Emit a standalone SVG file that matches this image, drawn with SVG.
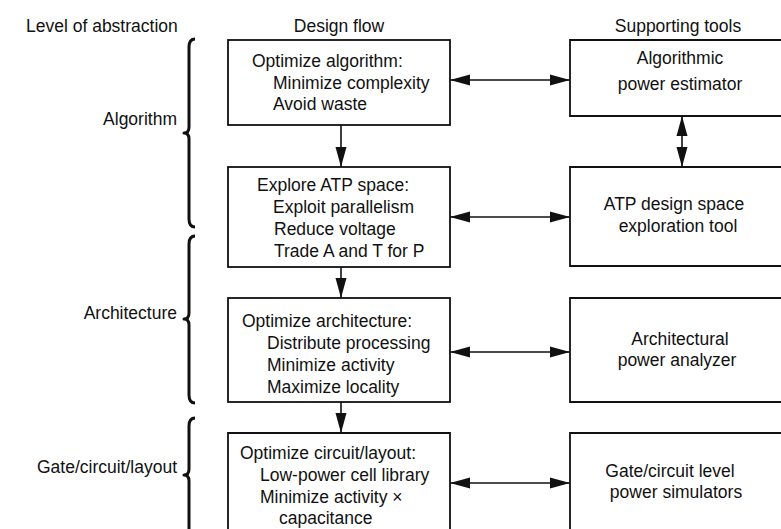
<svg xmlns="http://www.w3.org/2000/svg" width="781" height="529" viewBox="0 0 781 529">
<style>
text{font-family:"Liberation Sans",Arial,sans-serif;font-size:17.5px;fill:#111}
.c{text-anchor:middle}
.e{text-anchor:end}
.box{fill:none;stroke:#111;stroke-width:1.8}
.ln{fill:none;stroke:#111;stroke-width:1.6}
.br{fill:none;stroke:#111;stroke-width:3;stroke-linejoin:round}
</style>
<defs>
<marker id="ah" markerUnits="userSpaceOnUse" markerWidth="22" markerHeight="12" refX="20" refY="6" orient="auto-start-reverse">
<path d="M0,0.5 L20,6 L0,11.5 Z" fill="#111"/>
</marker>
</defs>
<rect width="781" height="529" fill="#fff"/>
<g id="headers">
<text x="26" y="32">Level of abstraction</text>
<text class="c" x="339" y="32">Design flow</text>
<text class="c" x="678" y="32">Supporting tools</text>
</g>
<g id="levels">
<g id="lvl-algorithm">
<path class="br" d="M195,39 Q189,39 189,47 L189,127 Q189,133 184,133 Q189,133 189,139 L189,219 Q189,227 195,227"/>
<text class="e" x="177" y="125">Algorithm</text>
</g>
<g id="lvl-architecture">
<path class="br" d="M195,236 Q189,236 189,244 L189,313 Q189,319 184,319 Q189,319 189,325 L189,395 Q189,403 195,403"/>
<text class="e" x="177" y="319">Architecture</text>
</g>
<g id="lvl-gate">
<path class="br" d="M195,418 Q189,418 189,426 L189,469 Q189,475 184,475 Q189,475 189,481 L189,540"/>
<text class="e" x="177" y="473">Gate/circuit/layout</text>
</g>
</g>
<g id="flow1">
<rect class="box" x="228" y="40" width="222" height="85"/>
<text x="252" y="67">Optimize algorithm:</text>
<text x="273" y="89">Minimize complexity</text>
<text x="273" y="110">Avoid waste</text>
</g>
<g id="flow2">
<rect class="box" x="228" y="167" width="222" height="100"/>
<text x="257" y="191">Explore ATP space:</text>
<text x="273" y="213">Exploit parallelism</text>
<text x="274" y="235">Reduce voltage</text>
<text x="274" y="257">Trade A and T for P</text>
</g>
<g id="flow3">
<rect class="box" x="228" y="298" width="222" height="104"/>
<text x="242" y="327">Optimize architecture:</text>
<text x="267" y="349">Distribute processing</text>
<text x="267" y="371">Minimize activity</text>
<text x="267" y="393">Maximize locality</text>
</g>
<g id="flow4">
<path class="box" d="M228,540 L228,433 L450,433 L450,540"/>
<text x="240" y="459">Optimize circuit/layout:</text>
<text x="260" y="481">Low-power cell library</text>
<text x="260" y="503">Minimize activity ×</text>
<text x="279" y="524">capacitance</text>
</g>
<g id="tool1">
<path class="box" d="M790,40 L570,40 L570,116 L790,116"/>
<text class="c" x="680" y="64">Algorithmic</text>
<text class="c" x="680" y="90">power estimator</text>
</g>
<g id="tool2">
<path class="box" d="M790,167 L570,167 L570,266 L790,266"/>
<text class="c" x="674" y="210">ATP design space</text>
<text class="c" x="678" y="232">exploration tool</text>
</g>
<g id="tool3">
<path class="box" d="M790,298 L570,298 L570,402 L790,402"/>
<text class="c" x="680" y="345">Architectural</text>
<text class="c" x="677" y="366">power analyzer</text>
</g>
<g id="tool4">
<path class="box" d="M790,433 L570,433 L570,540"/>
<text class="c" x="670" y="477">Gate/circuit level</text>
<text class="c" x="676" y="498">power simulators</text>
</g>
<g id="connectors">
<line class="ln" x1="341" y1="125" x2="341" y2="167" marker-end="url(#ah)"/>
<line class="ln" x1="341" y1="267" x2="341" y2="298" marker-end="url(#ah)"/>
<line class="ln" x1="341" y1="402" x2="341" y2="433" marker-end="url(#ah)"/>
<line class="ln" x1="450" y1="80" x2="570" y2="80" marker-start="url(#ah)" marker-end="url(#ah)"/>
<line class="ln" x1="450" y1="217" x2="570" y2="217" marker-start="url(#ah)" marker-end="url(#ah)"/>
<line class="ln" x1="450" y1="352" x2="570" y2="352" marker-start="url(#ah)" marker-end="url(#ah)"/>
<line class="ln" x1="450" y1="483" x2="570" y2="483" marker-start="url(#ah)" marker-end="url(#ah)"/>
<line class="ln" x1="682" y1="116" x2="682" y2="167" marker-start="url(#ah)" marker-end="url(#ah)"/>
</g>
</svg>
